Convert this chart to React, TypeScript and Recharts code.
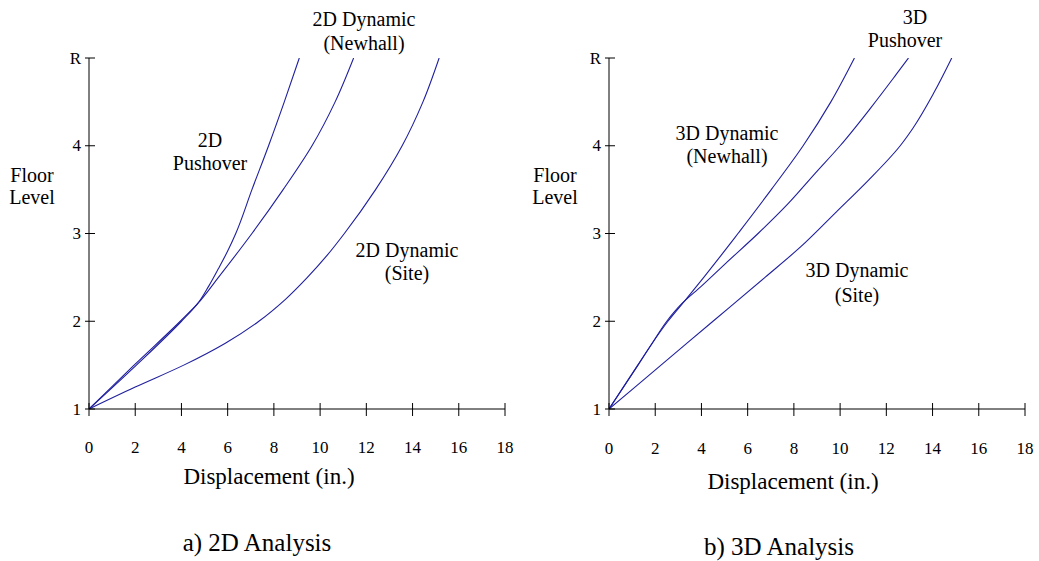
import React from 'react';
import { LineChart, Line, XAxis, YAxis } from 'recharts';

// displacement (in.) at floor heights
const pushover2D = [
  { disp: 0, floor: 1 }, { disp: 2.05, floor: 1.5 }, { disp: 4.0, floor: 2 },
  { disp: 4.7, floor: 2.2 }, { disp: 5.18, floor: 2.4 }, { disp: 5.6, floor: 2.6 },
  { disp: 6.0, floor: 2.8 }, { disp: 6.35, floor: 3 }, { disp: 7.05, floor: 3.5 },
  { disp: 7.77, floor: 4 }, { disp: 8.45, floor: 4.5 }, { disp: 9.1, floor: 5 },
];
const newhall2D = [
  { disp: 0, floor: 1 }, { disp: 1.95, floor: 1.5 }, { disp: 3.95, floor: 2 },
  { disp: 4.7, floor: 2.2 }, { disp: 5.6, floor: 2.5 }, { disp: 7.05, floor: 3 },
  { disp: 8.4, floor: 3.5 }, { disp: 9.65, floor: 4 }, { disp: 10.65, floor: 4.5 }, { disp: 11.45, floor: 5 },
];
const site2D = [
  { disp: 0, floor: 1 }, { disp: 2.0, floor: 1.25 }, { disp: 4.1, floor: 1.5 },
  { disp: 5.9, floor: 1.75 }, { disp: 7.35, floor: 2 }, { disp: 8.5, floor: 2.25 },
  { disp: 9.45, floor: 2.5 }, { disp: 10.3, floor: 2.75 }, { disp: 11.05, floor: 3 },
  { disp: 12.4, floor: 3.5 }, { disp: 13.55, floor: 4 }, { disp: 14.45, floor: 4.5 }, { disp: 15.15, floor: 5 },
];

const newhall3D = [
  { disp: 0, floor: 1 }, { disp: 1.25, floor: 1.5 }, { disp: 1.87, floor: 1.75 },
  { disp: 2.55, floor: 2 }, { disp: 3.33, floor: 2.25 }, { disp: 4.1, floor: 2.5 },
  { disp: 4.85, floor: 2.75 }, { disp: 5.58, floor: 3 }, { disp: 7.02, floor: 3.5 },
  { disp: 8.4, floor: 4 }, { disp: 9.6, floor: 4.5 }, { disp: 10.62, floor: 5 },
];
const pushover3D = [
  { disp: 0, floor: 1 }, { disp: 1.25, floor: 1.5 }, { disp: 1.87, floor: 1.75 },
  { disp: 2.5, floor: 2 }, { disp: 3.15, floor: 2.2 }, { disp: 4.0, floor: 2.4 },
  { disp: 5.05, floor: 2.66 }, { disp: 6.45, floor: 3 }, { disp: 7.75, floor: 3.34 },
  { disp: 8.9, floor: 3.68 }, { disp: 10.0, floor: 4 }, { disp: 11.35, floor: 4.44 },
  { disp: 12.42, floor: 4.81 }, { disp: 12.96, floor: 5 },
];
const site3D = [
  { disp: 0, floor: 1 }, { disp: 2.25, floor: 1.5 }, { disp: 4.5, floor: 2 },
  { disp: 6.75, floor: 2.5 }, { disp: 8.3, floor: 2.85 }, { disp: 9.85, floor: 3.25 },
  { disp: 11.2, floor: 3.6 }, { disp: 12.6, floor: 4 }, { disp: 13.15, floor: 4.2 },
  { disp: 14.05, floor: 4.6 }, { disp: 14.83, floor: 5 },
];

const xTicks = [0, 2, 4, 6, 8, 10, 12, 14, 16, 18];
const yTicks = [1, 2, 3, 4, 5];
const yTickLabels = ['1', '2', '3', '4', 'R'];

const FONT = '"Liberation Serif", "Times New Roman", serif';
const LINE = '#1f1f9e';

const YTick = (props: any) => {
  const { x, y, payload } = props;
  const i = yTicks.indexOf(payload.value);
  return (
    <g>
      <line x1={x - 4} x2={x + 6} y1={y} y2={y} stroke="#000" strokeWidth={1} />
      <text x={x - 8} y={y} textAnchor="end" dominantBaseline="central" fontFamily={FONT} fontSize={17} fill="#000">
        {yTickLabels[i]}
      </text>
    </g>
  );
};

const makeXTick = (labelDy: number) => (props: any) => {
  const { x, y, payload } = props;
  return (
    <g>
      <line x1={x} x2={x} y1={y - 6} y2={y + 7} stroke="#000" strokeWidth={1} />
      <text x={x} y={y + labelDy} textAnchor="middle" dominantBaseline="central" fontFamily={FONT} fontSize={17} fill="#000">
        {payload.value}
      </text>
    </g>
  );
};

const Txt = ({ x, y, size, children }: { x: number; y: number; size: number; children: React.ReactNode }) => (
  <div
    style={{
      position: 'absolute', left: x, top: y, transform: 'translate(-50%, -50%)',
      fontFamily: FONT, fontSize: size, color: '#000', whiteSpace: 'nowrap', lineHeight: 1,
    }}
  >
    {children}
  </div>
);

interface PanelProps {
  left: number;
  width: number;
  series: { disp: number; floor: number }[][];
  labelDy: number;
}

// plot area: x 89..505 inside each panel, y 58..409
const Panel = ({ left, width, series, labelDy }: PanelProps) => (
  <div style={{ position: 'absolute', left, top: 0, width, height: 561 }}>
    <LineChart width={width} height={561} margin={{ top: 58, right: width - 505, bottom: 122, left: 49 }}>
      <XAxis
        type="number" dataKey="disp" domain={[0, 18]} ticks={xTicks} height={30}
        axisLine={{ stroke: '#000', strokeWidth: 1 }} tickLine={false} tickSize={0} tickMargin={0}
        tick={makeXTick(labelDy)} interval={0} allowDataOverflow
      />
      <YAxis
        type="number" dataKey="floor" domain={[1, 5]} ticks={yTicks} width={40}
        axisLine={{ stroke: '#000', strokeWidth: 1 }} tickLine={false} tickSize={0} tickMargin={0}
        tick={<YTick />} interval={0} allowDataOverflow
      />
      {series.map((s, i) => (
        <Line key={i} data={s} dataKey="floor" type="monotoneY" stroke={LINE} strokeWidth={1.1}
          dot={false} activeDot={false} isAnimationActive={false} />
      ))}
    </LineChart>
  </div>
);

export default function App() {
  return (
    <div style={{ position: 'absolute', left: 0, top: 0, width: 1039, height: 561, background: '#fff' }}>
      <Panel left={0} width={520} series={[pushover2D, newhall2D, site2D]} labelDy={38} />
      <Panel left={520} width={519} series={[newhall3D, pushover3D, site3D]} labelDy={39} />

      {/* left panel text */}
      <Txt x={32} y={175} size={20}>Floor</Txt>
      <Txt x={32} y={197} size={20}>Level</Txt>
      <Txt x={364} y={19} size={20}>2D Dynamic</Txt>
      <Txt x={364} y={43} size={20}>(Newhall)</Txt>
      <Txt x={210} y={140} size={20}>2D</Txt>
      <Txt x={210} y={163} size={20}>Pushover</Txt>
      <Txt x={407} y={250} size={20}>2D Dynamic</Txt>
      <Txt x={407} y={273} size={20}>(Site)</Txt>
      <Txt x={269} y={476} size={23}>Displacement (in.)</Txt>
      <Txt x={257} y={542} size={25}>a) 2D Analysis</Txt>

      {/* right panel text */}
      <Txt x={555} y={175} size={20}>Floor</Txt>
      <Txt x={555} y={197} size={20}>Level</Txt>
      <Txt x={915} y={17} size={20}>3D</Txt>
      <Txt x={905} y={40} size={20}>Pushover</Txt>
      <Txt x={727} y={133} size={20}>3D Dynamic</Txt>
      <Txt x={727} y={156} size={20}>(Newhall)</Txt>
      <Txt x={857} y={270} size={20}>3D Dynamic</Txt>
      <Txt x={857} y={295} size={20}>(Site)</Txt>
      <Txt x={793} y={481} size={23}>Displacement (in.)</Txt>
      <Txt x={779} y={546} size={25}>b) 3D Analysis</Txt>
    </div>
  );
}
